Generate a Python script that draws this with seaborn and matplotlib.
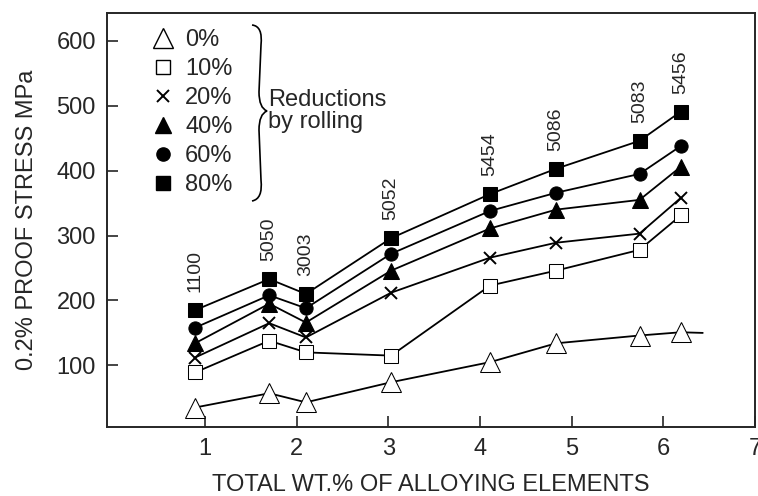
import numpy as np
import pandas as pd
import matplotlib
matplotlib.use("Agg")
import matplotlib.pyplot as plt
import seaborn as sns
from matplotlib.lines import Line2D
from matplotlib.path import Path
from matplotlib.patches import PathPatch

# ---- data ----
alloys = ["1100", "5050", "3003", "5052", "5454", "5086", "5083", "5456"]
alloy_x = [0.89, 1.70, 2.10, 3.03, 4.11, 4.83, 5.74, 6.19]
tail_x = 6.43
tail_y0 = 150
reductions = ["0%", "10%", "20%", "40%", "60%", "80%"]
stress_0 = [35, 57, 43, 74, 105, 134, 146, 151]
stress_10 = [89, 138, 120, 115, 223, 246, 278, 331]
stress_20 = [112, 165, 143, 212, 266, 289, 303, 358]
stress_40 = [134, 195, 166, 246, 311, 340, 355, 406]
stress_60 = [158, 208, 188, 272, 338, 366, 395, 438]
stress_80 = [185, 233, 210, 296, 364, 403, 446, 491]
series = [stress_0, stress_10, stress_20, stress_40, stress_60, stress_80]
x_ticks = [1, 2, 3, 4, 5, 6, 7]
y_ticks = [100, 200, 300, 400, 500, 600]

# ---- style ----
sns.set_style("ticks")
plt.rcParams["font.family"] = ["Liberation Sans", "DejaVu Sans"]

W, H = 758, 496
fig = plt.figure(figsize=(W / 100, H / 100), dpi=100)
ax = fig.add_axes([107 / W, 1 - 427 / H, (755 - 107) / W, (427 - 13) / H])

styles = [
    dict(marker="^", markersize=14, markerfacecolor="white"),
    dict(marker="s", markersize=10, markerfacecolor="white"),
    dict(marker="x", markersize=9, markeredgewidth=1.4),
    dict(marker="^", markersize=11, markerfacecolor="black"),
    dict(marker="o", markersize=9.5, markerfacecolor="black"),
    dict(marker="s", markersize=10, markerfacecolor="black"),
]

for i, (lab, ys) in enumerate(zip(reductions, series)):
    xs = list(alloy_x)
    yv = list(ys)
    kw = dict(styles[i])
    if i == 0:
        xs = xs + [tail_x]
        yv = yv + [tail_y0]
        kw["markevery"] = list(range(len(alloy_x)))
    df = pd.DataFrame({"x": xs, "y": yv})
    sns.lineplot(data=df, x="x", y="y", ax=ax, color="black", linewidth=1.3,
                 markeredgecolor="black", sort=False, estimator=None,
                 zorder=3 + i, **kw)

# alloy labels
for ax_x, name, ytop in zip(alloy_x, alloys, stress_80):
    ax.annotate(name, (ax_x, ytop), xytext=(0, 13), textcoords="offset points",
                rotation=90, ha="center", va="bottom", fontsize=14)

ax.set_xlim(-0.07, 7.0)
ax.set_ylim(5, 643)
ax.set_xticks(x_ticks)
ax.set_yticks(y_ticks)
ax.tick_params(direction="in", length=8, width=1.2, labelsize=17, pad=8,
               top=False, right=False)
for s in ax.spines.values():
    s.set_linewidth(1.4)
    s.set_visible(True)
ax.set_xlabel("TOTAL WT.% OF ALLOYING ELEMENTS", fontsize=17, labelpad=10)
ax.set_ylabel("0.2% PROOF STRESS MPa", fontsize=17, labelpad=13)

# legend
handles = []
for i, lab in enumerate(reductions):
    kw = dict(styles[i])
    handles.append(Line2D([], [], color="black", linestyle="none",
                          markeredgecolor="black", **kw))
leg = ax.legend(handles, reductions, loc="upper left", frameon=False,
                fontsize=17, handlelength=1.0, handletextpad=0.45,
                labelspacing=0.3, borderaxespad=0, borderpad=0,
                bbox_to_anchor=(151 / W, 1 - 29 / H),
                bbox_transform=fig.transFigure)

# brace
def P(px, py):
    return (px / W, 1 - py / H)

verts = [P(252, 25), P(263, 26), P(261, 45), P(259, 92), P(259, 108),
         P(267, 111), P(259, 114), P(259, 130), P(261, 180), P(263, 199),
         P(252, 201)]
codes = [Path.MOVETO, Path.CURVE3, Path.CURVE3, Path.LINETO, Path.CURVE3,
         Path.CURVE3, Path.CURVE3, Path.CURVE3, Path.LINETO, Path.CURVE3,
         Path.CURVE3]
fig.patches.append(PathPatch(Path(verts, codes), facecolor="none",
                             edgecolor="black", linewidth=1.2,
                             transform=fig.transFigure))
fig.text(268 / W, 1 - 111 / H, "Reductions\nby rolling", fontsize=17,
         ha="left", va="center", linespacing=1.0)

fig.savefig("out.png", dpi=100)
